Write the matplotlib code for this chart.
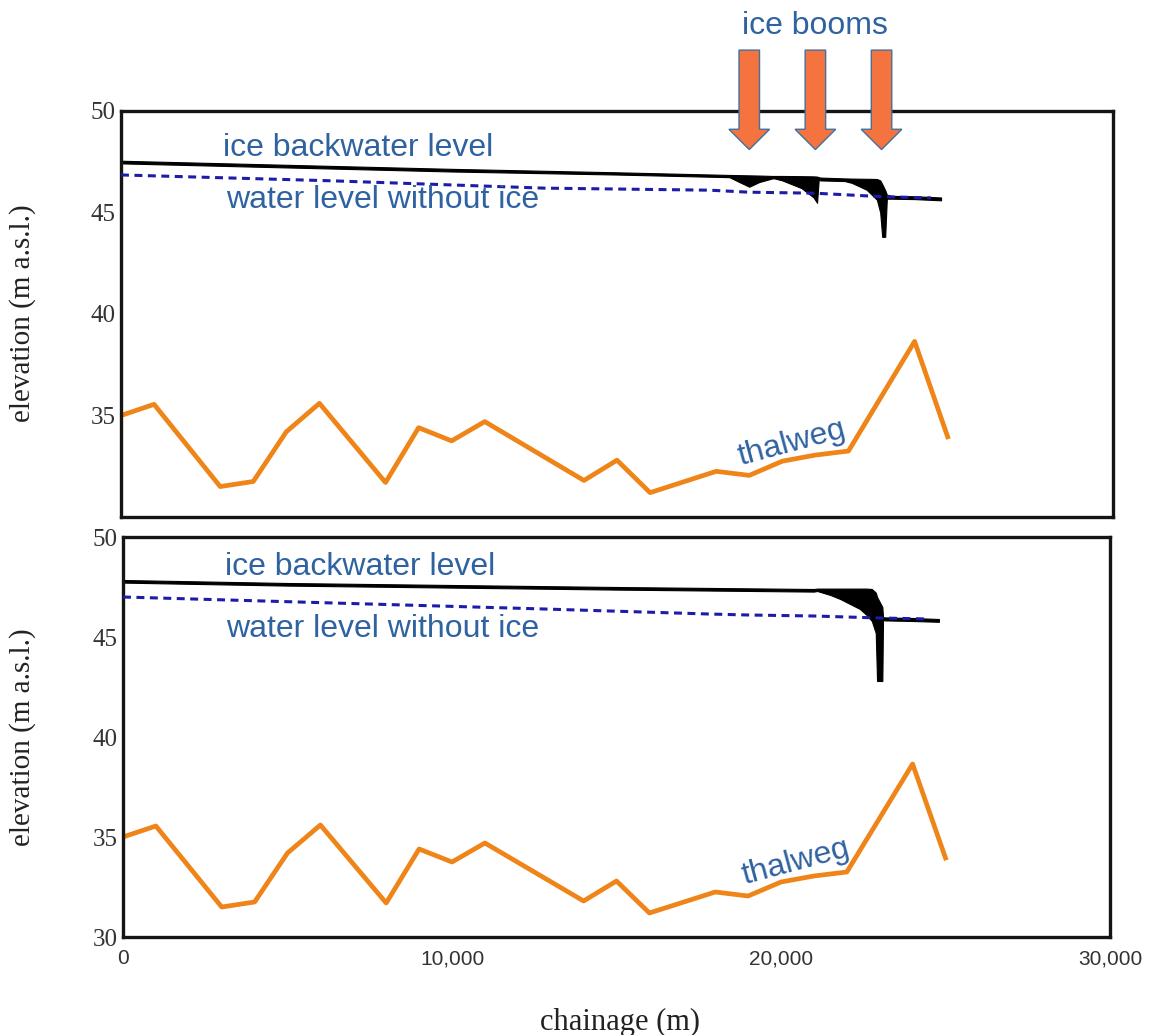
import numpy as np
import matplotlib.pyplot as plt
from matplotlib.patches import FancyArrow

# thalweg (same bed in both runs)
chain = [0, 1000, 3000, 4000, 5000, 6000, 8000, 9000, 10000, 11000, 14000,
         15000, 16000, 18000, 19000, 20000, 21000, 22000, 24000, 25000]
thalweg = [35.0, 35.55, 31.5, 31.75, 34.2, 35.6, 31.7, 34.4, 33.75, 34.7, 31.8,
           32.8, 31.2, 32.25, 32.05, 32.75, 33.05, 33.25, 38.65, 33.95]

# water level without ice
wl_x = [0, 6400, 12800, 17800, 19000, 21000, 23000, 24500]
wl_top = [46.85, 46.56, 46.2, 46.1, 46.0, 45.95, 45.78, 45.72]
wl_bot = [47.0, 46.7, 46.4, 46.15, 46.1, 46.05, 45.95, 45.9]

# ice backwater level, upper / lower envelope of the oscillating solution
# run 1: three ice booms
booms = [19000, 21000, 23000]
ice1_x = [0, 5000, 10000, 15000, 18400, 18700, 19000, 19300, 19700, 19760,
          20000, 20580, 20940, 21050, 21100, 21150, 21880, 22100, 22550, 22860,
          22960, 23020, 23110, 23160, 23300, 24000, 24800]
ice1_hi = [47.55, 47.35, 47.15, 46.98, 46.85, 46.84, 46.83, 46.82, 46.8, 46.8,
           46.8, 46.79, 46.78, 46.77, 46.74, 46.72, 46.68, 46.67, 46.66, 46.65,
           46.58, 46.4, 46.1, 45.88, 45.82, 45.8, 45.74]
ice1_lo = [47.42, 47.22, 47.02, 46.87, 46.74, 46.5, 46.27, 46.5, 46.68, 46.68,
           46.58, 46.2, 45.75, 45.48, 46.62, 46.58, 46.55, 46.46, 46.12, 45.63,
           45.0, 43.8, 43.8, 45.68, 45.68, 45.66, 45.6]

# run 2: single ice boom
ice2_x = [0, 5000, 10000, 15000, 21000, 21100, 21500, 21800, 22100, 22400,
          22600, 22760, 22880, 22920, 23080, 23100, 23150, 24000, 24800]
ice2_hi = [47.85, 47.7, 47.6, 47.5, 47.4, 47.42, 47.42, 47.42, 47.42, 47.42,
           47.42, 47.4, 47.22, 47.0, 46.5, 46.0, 45.98, 45.95, 45.9]
ice2_lo = [47.72, 47.57, 47.47, 47.37, 47.27, 47.3, 47.1, 46.9, 46.65, 46.4,
           46.1, 45.8, 45.2, 42.8, 42.8, 45.85, 45.83, 45.8, 45.76]

W, H = 1153, 1035
fig = plt.figure(figsize=(W / 100, H / 100), dpi=100)


def fx(px):
    return px / W


def fy(py):
    return 1 - py / H


txt_blue = '#2f62a0'
orange = '#ef8418'
dash_blue = '#1c1ca8'
sans = ['Liberation Sans', 'DejaVu Sans']
serif = ['Liberation Serif', 'DejaVu Serif']
lab_size = 23

ax1 = fig.add_axes([fx(121), fy(517), fx(1113 - 121), (517 - 111) / H])
ax2 = fig.add_axes([fx(123), fy(937), fx(1110 - 123), (937 - 537) / H])

for ax, ix, hi, lo, wl in [(ax1, ice1_x, ice1_hi, ice1_lo, wl_top),
                           (ax2, ice2_x, ice2_hi, ice2_lo, wl_bot)]:
    ax.fill_between(ix, lo, hi, color='black', lw=0.8, ec='black', zorder=2)
    ax.plot(wl_x, wl, color=dash_blue, lw=2.2, linestyle=(0, (2.6, 1.8)), zorder=3)
    ax.plot(chain, thalweg, color=orange, lw=3.4, zorder=2)
    ax.set_xlim(0, 30000)
    ax.set_ylim(30, 50)
    for s in ax.spines.values():
        s.set_linewidth(2.4)
        s.set_color('#151515')
    ax.tick_params(length=0, labelcolor='#333333', pad=4)

ax1.set_yticks([35, 40, 45, 50])
ax1.set_xticks([])
ax2.set_yticks([30, 35, 40, 45, 50])
ax2.set_xticks([0, 10000, 20000, 30000])
ax2.set_xticklabels(['0', '10,000', '20,000', '30,000'], family=sans, fontsize=15)
ax2.tick_params(axis='x', pad=9)
for ax in (ax1, ax2):
    for lab in ax.get_yticklabels():
        lab.set_family(serif)
        lab.set_fontsize(18)

# ice boom arrows
for b in booms:
    ax1.add_patch(FancyArrow(b, 53.0, 0, -4.9, width=620, head_width=1230,
                             head_length=1.0, length_includes_head=True,
                             fc='#f4733f', ec='#41719c', lw=1.0,
                             clip_on=False, zorder=5))
fig.text(fx(815), fy(26), 'ice booms', ha='center', va='center',
         fontsize=lab_size, color=txt_blue, family=sans)

# line labels
fig.text(fx(223), fy(148), 'ice backwater level', ha='left', va='center',
         fontsize=lab_size, color=txt_blue, family=sans)
fig.text(fx(226), fy(200), 'water level without ice', ha='left', va='center',
         fontsize=lab_size, color=txt_blue, family=sans)
fig.text(fx(225), fy(567), 'ice backwater level', ha='left', va='center',
         fontsize=lab_size, color=txt_blue, family=sans)
fig.text(fx(226), fy(629), 'water level without ice', ha='left', va='center',
         fontsize=lab_size, color=txt_blue, family=sans)
fig.text(fx(792), fy(443), 'thalweg', ha='center', va='center', rotation=15,
         fontsize=lab_size, color=txt_blue, family=sans)
fig.text(fx(796), fy(862), 'thalweg', ha='center', va='center', rotation=15,
         fontsize=lab_size, color=txt_blue, family=sans)

# axis titles
fig.text(fx(23), fy(313), 'elevation (m a.s.l.)', rotation=90, ha='center',
         va='center', fontsize=21, family=serif, color='#222222')
fig.text(fx(23), fy(737), 'elevation (m a.s.l.)', rotation=90, ha='center',
         va='center', fontsize=21, family=serif, color='#222222')
fig.text(fx(620), fy(1022), 'chainage (m)', ha='center', va='center',
         fontsize=22, family=serif, color='#222222')

fig.savefig('out.png', dpi=100)
